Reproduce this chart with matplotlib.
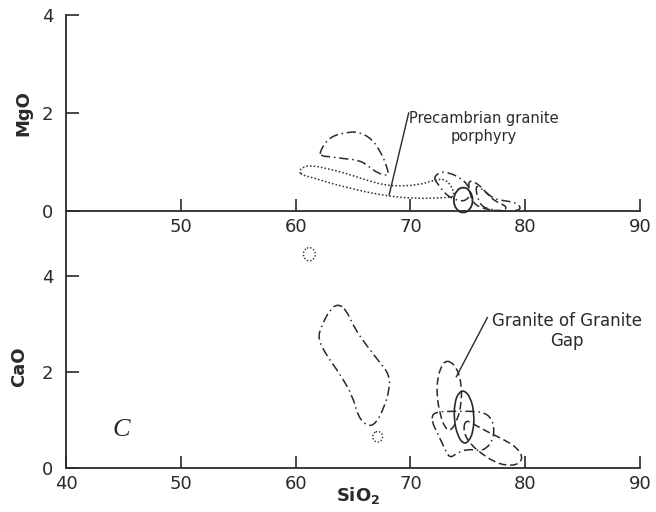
import numpy as np
import matplotlib
matplotlib.use("Agg")
import matplotlib.pyplot as plt
from matplotlib.path import Path
from matplotlib.patches import PathPatch

# ---------------- data (SiO2 wt%, oxide wt%) ----------------
# MgO panel fields
mg_field1_x = [62.09, 62.96, 64.70, 65.71, 66.72, 67.30, 67.74, 68.10, 68.05, 67.16, 66.43, 65.57, 64.11, 62.96, 62.23]
mg_field1_y = [1.21, 1.52, 1.62, 1.60, 1.45, 1.24, 1.04, 0.78, 0.72, 0.77, 0.90, 1.04, 1.07, 1.11, 1.12]

mg_porph_x = [60.3, 60.6, 61.5, 63.0, 64.4, 66.0, 68.2, 70.8, 72.0, 73.2, 74.0, 73.0, 70.2, 67.3, 65.0, 63.0, 61.5, 60.6]
mg_porph_y = [0.80, 0.90, 0.93, 0.85, 0.77, 0.64, 0.50, 0.53, 0.63, 0.66, 0.30, 0.27, 0.25, 0.33, 0.45, 0.57, 0.68, 0.73]

mg_field3_x = [72.0, 72.6, 73.4, 74.3, 75.0, 75.3, 74.8, 74.0, 73.3, 72.8, 72.4]
mg_field3_y = [0.68, 0.80, 0.78, 0.68, 0.54, 0.35, 0.20, 0.22, 0.30, 0.42, 0.55]

mg_solid_x = [74.6, 75.2, 75.5, 75.2, 74.6, 74.0, 73.7, 74.0]
mg_solid_y = [0.50, 0.42, 0.22, 0.02, -0.05, 0.02, 0.22, 0.42]

mg_dashed_x = [75.0, 76.0, 76.7, 77.5, 78.4, 78.2, 76.8, 75.6, 75.2]
mg_dashed_y = [0.65, 0.54, 0.34, 0.18, 0.10, 0.00, 0.02, 0.12, 0.32]

mg_tail_x = [75.6, 76.4, 77.3, 78.5, 79.3, 79.7, 78.6, 77.0, 76.0]
mg_tail_y = [0.55, 0.42, 0.24, 0.20, 0.16, 0.03, -0.01, 0.02, 0.12]

# CaO panel fields
ca_field1_x = [63.68, 62.96, 62.23, 61.94, 62.67, 63.83, 64.99, 65.43, 66.29, 67.02, 67.74, 68.17, 68.17, 67.30, 66.15, 65.13, 64.41]
ca_field1_y = [3.42, 3.29, 2.94, 2.70, 2.35, 1.97, 1.49, 1.07, 0.86, 0.93, 1.28, 1.63, 1.94, 2.21, 2.56, 2.91, 3.29]

ca_dot1_x = [67.16, 67.5, 67.6, 67.5, 67.16, 66.8, 66.7, 66.8]
ca_dot1_y = [0.77, 0.73, 0.65, 0.57, 0.53, 0.57, 0.65, 0.73]

ca_dot2_x = [61.2, 61.62, 61.75, 61.62, 61.2, 60.78, 60.65, 60.78]
ca_dot2_y = [4.60, 4.55, 4.45, 4.35, 4.30, 4.35, 4.45, 4.55]

ca_gap1_x = [73.5, 74.1, 74.45, 74.45, 74.1, 73.5, 73.0, 72.6, 72.3, 72.35, 72.7, 73.0]
ca_gap1_y = [2.22, 2.06, 1.75, 1.35, 1.00, 0.76, 0.84, 1.10, 1.50, 1.86, 2.12, 2.22]

ca_solid_x = [74.7, 75.25, 75.55, 75.5, 75.1, 74.6, 74.1, 73.8, 73.85, 74.2]
ca_solid_y = [1.62, 1.46, 1.15, 0.78, 0.55, 0.50, 0.68, 1.00, 1.36, 1.57]

ca_dashdot_x = [71.9, 72.5, 73.5, 74.5, 75.5, 76.3, 77.0, 77.3, 77.2, 76.7, 76.0, 75.0, 74.0, 73.4, 72.9, 72.3, 71.9]
ca_dashdot_y = [1.12, 1.17, 1.18, 1.18, 1.18, 1.16, 1.06, 0.85, 0.60, 0.42, 0.35, 0.40, 0.30, 0.20, 0.45, 0.75, 0.95]

ca_elong_x = [74.8, 75.8, 77.0, 78.3, 79.3, 79.8, 79.4, 78.3, 77.2, 76.2, 75.2, 74.6]
ca_elong_y = [1.02, 0.87, 0.72, 0.57, 0.42, 0.22, 0.07, 0.05, 0.14, 0.30, 0.50, 0.76]

x_ticks_top = [50, 60, 70, 80, 90]
x_ticks_bot = [40, 50, 60, 70, 80, 90]
y_ticks = [0, 2, 4]

# leader lines
porph_label = "Precambrian granite\nporphyry"
porph_text_xy = (76.4, 1.70)
porph_line_x = [69.85, 68.15]
porph_line_y = [2.00, 0.33]

gap_label = "Granite of Granite\nGap"
gap_text_xy = (83.65, 2.85)
gap_line_x = [76.7, 74.0]
gap_line_y = [3.13, 1.90]

# ---------------- drawing ----------------
ink = "#2a2a2a"
plt.rcParams["font.family"] = ["DejaVu Sans"]
plt.rcParams["mathtext.fontset"] = "dejavusans"

fig = plt.figure(figsize=(6.56, 5.12), dpi=100)
W, H = 656.0, 512.0
ax_t = fig.add_axes([66 / W, (H - 211) / H, (640 - 66) / W, (211 - 15) / H])
ax_b = fig.add_axes([66 / W, (H - 468) / H, (640 - 66) / W, (468 - 211) / H])

DASHDOT = (0, (6, 2.5, 1, 2.5))
DASHED = (0, (5, 2.5))
DOTTED = (0, (1, 1.4))


def outline(ax, xs, ys, ls, lw=1.1):
    pts = np.column_stack([xs, ys])
    mids = (pts + np.roll(pts, -1, axis=0)) / 2
    verts = [mids[-1]]
    codes = [Path.MOVETO]
    for i in range(len(pts)):
        verts += [pts[i], mids[i]]
        codes += [Path.CURVE3, Path.CURVE3]
    ax.add_patch(PathPatch(Path(verts, codes), fill=False, edgecolor=ink,
                           linewidth=lw, linestyle=ls, clip_on=False))


for ax, ylim, xt in [(ax_t, (0, 4), x_ticks_top), (ax_b, (0, 5.35), x_ticks_bot)]:
    ax.set_xlim(40, 90)
    ax.set_ylim(*ylim)
    ax.set_xticks(xt)
    ax.set_yticks(y_ticks)
    ax.set_xticklabels([str(v) for v in xt])
    ax.set_yticklabels([str(v) for v in y_ticks])
    for s in ["top", "right"]:
        ax.spines[s].set_visible(False)
    for s in ["left", "bottom"]:
        ax.spines[s].set_linewidth(1.3)
        ax.spines[s].set_color(ink)
    ax.tick_params(axis="x", direction="in", length=9, width=1.2, color=ink,
                   labelsize=13, labelcolor=ink, pad=5)
    ax.tick_params(axis="y", direction="in", length=9, width=1.2, color=ink,
                   labelsize=13, labelcolor=ink, pad=9)
    ax.patch.set_alpha(0)

# MgO fields
outline(ax_t, mg_field1_x, mg_field1_y, DASHDOT)
outline(ax_t, mg_porph_x, mg_porph_y, DOTTED)
outline(ax_t, mg_field3_x, mg_field3_y, DASHDOT)
outline(ax_t, mg_solid_x, mg_solid_y, "-", lw=1.3)
outline(ax_t, mg_dashed_x, mg_dashed_y, DASHED)
outline(ax_t, mg_tail_x, mg_tail_y, DASHDOT)

# CaO fields
outline(ax_b, ca_field1_x, ca_field1_y, DASHDOT)
outline(ax_b, ca_dot1_x, ca_dot1_y, DOTTED, lw=1.0)
outline(ax_b, ca_dot2_x, ca_dot2_y, DOTTED, lw=1.0)
outline(ax_b, ca_gap1_x, ca_gap1_y, DASHED)
outline(ax_b, ca_solid_x, ca_solid_y, "-", lw=1.2)
outline(ax_b, ca_dashdot_x, ca_dashdot_y, DASHDOT)
outline(ax_b, ca_elong_x, ca_elong_y, DASHED)

# labels and leaders
ax_t.plot(porph_line_x, porph_line_y, color=ink, lw=1.0, clip_on=False)
ax_t.text(*porph_text_xy, porph_label, ha="center", va="center",
          multialignment="center", fontsize=10.5, color=ink, linespacing=1.3)
ax_b.plot(gap_line_x, gap_line_y, color=ink, lw=1.0, clip_on=False)
ax_b.text(*gap_text_xy, gap_label, ha="center", va="center",
          multialignment="center", fontsize=12, color=ink, linespacing=1.1)

ax_b.text(44.78, 0.79, "C", family="Liberation Serif", style="italic",
          fontsize=19, color=ink, ha="center", va="center")

fig.text(23 / W, 1 - 113 / H, "MgO", rotation=90, ha="center", va="center",
         fontsize=13, fontweight="bold", color=ink)
fig.text(19 / W, 1 - 367 / H, "CaO", rotation=90, ha="center", va="center",
         fontsize=13, fontweight="bold", color=ink)
fig.text(358 / W, 1 - 496 / H, r"$\mathbf{SiO_2}$", ha="center", va="center",
         fontsize=13, color=ink)

fig.savefig("out.png", dpi=100, facecolor="white")
